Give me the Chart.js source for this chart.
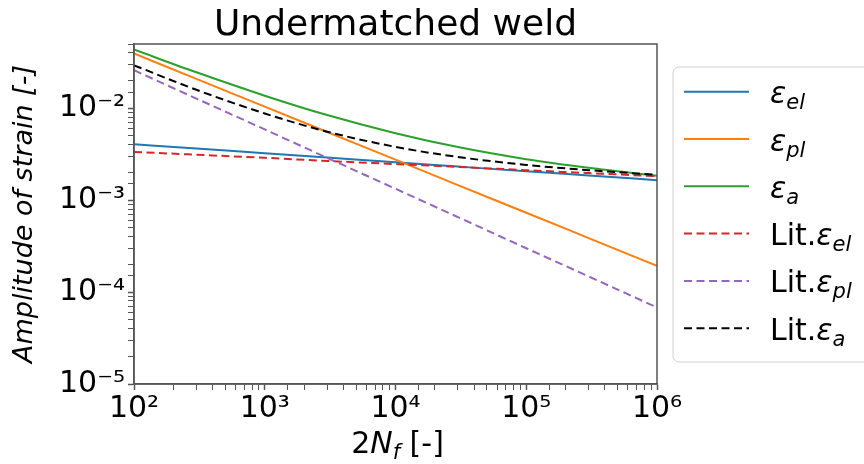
<!DOCTYPE html>
<html>
<head>
<meta charset="utf-8">
<title>Undermatched weld</title>
<script src="https://cdn.jsdelivr.net/npm/chart.js@4.4.1/dist/chart.umd.min.js"></script>
<style>
  html, body { margin: 0; padding: 0; background: #fff; }
  #wrap { width: 864px; height: 464px; }
</style>
</head>
<body>
<div id="wrap"><canvas id="chart" width="864" height="464"></canvas></div>
<script>
/* Undermatched weld - strain amplitude vs reversals (log-log) */
const cycles  = [100, 300, 1000, 3000, 10000, 30000, 100000, 300000, 1000000];

// fitted curves
const epsEl   = [4.06e-3, 3.65e-3, 3.24e-3, 2.91e-3, 2.59e-3, 2.32e-3, 2.06e-3, 1.86e-3, 1.65e-3];
const epsPl   = [3.94e-2, 2.09e-2, 1.04e-2, 5.52e-3, 2.76e-3, 1.46e-3, 7.30e-4, 3.87e-4, 1.93e-4];
const epsA    = [4.35e-2, 2.46e-2, 1.37e-2, 8.43e-3, 5.35e-3, 3.78e-3, 2.79e-3, 2.25e-3, 1.84e-3];

// literature curves
const litEl   = [3.35e-3, 3.12e-3, 2.89e-3, 2.67e-3, 2.47e-3, 2.30e-3, 2.12e-3, 1.97e-3, 1.82e-3];
const litPl   = [2.59e-2, 1.275e-2, 5.88e-3, 2.89e-3, 1.33e-3, 6.54e-4, 3.00e-4, 1.48e-4, 6.8e-5];
const litA    = [2.93e-2, 1.587e-2, 8.77e-3, 5.56e-3, 3.80e-3, 2.95e-3, 2.42e-3, 2.12e-3, 1.89e-3];

const seriesNames = ['el', 'pl', 'a', 'el', 'pl', 'a'];
const seriesLit   = [false, false, false, true, true, true];
const seriesData  = [epsEl, epsPl, epsA, litEl, litPl, litA];
const COLORS = ['#1f77b4', '#ff7f0e', '#2ca02c', '#d62728', '#9467bd', '#000000'];
const DASH = [8, 4.5];

const yMin = 1e-5, yMax = 0.05;
const xMin = 100, xMax = 1e6;

const FONT = '"DejaVu Sans", "Liberation Sans", sans-serif';
const AXIS_COLOR = '#555';

const SUP = {'-': '\u207B', '0': '\u2070', '1': '\u00B9', '2': '\u00B2', '3': '\u00B3',
             '4': '\u2074', '5': '\u2075', '6': '\u2076', '7': '\u2077', '8': '\u2078', '9': '\u2079'};

function powLabel(v){
  const e = Math.round(Math.log10(v));
  if(Math.abs(Math.log10(v) - e) > 1e-9) return '';
  return '10' + String(e).split('').map(c => SUP[c]).join('');
}
function isMajor(v){
  const l = Math.log10(v);
  return Math.abs(l - Math.round(l)) < 1e-9;
}

const datasets = seriesData.map((d, i) => ({
  label: (seriesLit[i] ? 'Lit.' : '') + 'ε_' + seriesNames[i],
  data: cycles.map((x, j) => ({x: x, y: d[j]})),
  borderColor: COLORS[i],
  backgroundColor: COLORS[i],
  borderWidth: 2,
  borderDash: seriesLit[i] ? DASH : [],
  pointRadius: 0,
  cubicInterpolationMode: 'monotone',
  fill: false,
  order: 6 - i
}));

// draws frame, titles and the legend with sub/superscripts
const decorPlugin = {
  id: 'decor',
  afterDraw(chart){
    const ctx = chart.ctx;
    const a = chart.chartArea;
    ctx.save();

    // frame
    ctx.strokeStyle = AXIS_COLOR;
    ctx.lineWidth = 1.5;
    ctx.strokeRect(a.left, a.top, a.right - a.left, a.bottom - a.top);

    ctx.fillStyle = '#000';
    ctx.textBaseline = 'alphabetic';

    // title
    ctx.font = '36px ' + FONT;
    ctx.textAlign = 'center';
    ctx.fillText('Undermatched weld', (a.left + a.right) / 2, 35);

    // y title
    ctx.save();
    ctx.translate(32, (a.top + a.bottom) / 2);
    ctx.rotate(-Math.PI / 2);
    ctx.font = 'italic 27px ' + FONT;
    ctx.textAlign = 'center';
    ctx.fillText('Amplitude of strain [-]', 0, 0);
    ctx.restore();

    // x title: 2N_f [-]
    ctx.textAlign = 'left';
    const big = '30px ' + FONT, bigIt = 'italic 30px ' + FONT, subIt = 'italic 21px ' + FONT;
    const parts = [
      {t: '2', f: big, dy: 0},
      {t: 'N', f: bigIt, dy: 0},
      {t: 'f', f: subIt, dy: 6},
      {t: ' [-]', f: big, dy: 0}
    ];
    let w = 0;
    parts.forEach(p => { ctx.font = p.f; p.w = ctx.measureText(p.t).width; w += p.w; });
    let x = (a.left + a.right) / 2 - w / 2 + 2;
    parts.forEach(p => { ctx.font = p.f; ctx.fillText(p.t, x, 453 + p.dy); x += p.w; });

    // legend
    const lx = 673, ly = 67, lw = 220, lh = 295, r = 6;
    ctx.beginPath();
    ctx.moveTo(lx + r, ly);
    ctx.lineTo(lx + lw, ly);
    ctx.lineTo(lx + lw, ly + lh);
    ctx.lineTo(lx + r, ly + lh);
    ctx.arcTo(lx, ly + lh, lx, ly + lh - r, r);
    ctx.lineTo(lx, ly + r);
    ctx.arcTo(lx, ly, lx + r, ly, r);
    ctx.closePath();
    ctx.fillStyle = '#fff';
    ctx.fill();
    ctx.strokeStyle = '#d0d0d0';
    ctx.lineWidth = 1;
    ctx.stroke();

    for(let i = 0; i < seriesNames.length; i++){
      const y = 91.7 + 47.3 * i;
      ctx.beginPath();
      ctx.setLineDash(seriesLit[i] ? DASH : []);
      ctx.strokeStyle = COLORS[i];
      ctx.lineWidth = 2;
      ctx.moveTo(684, y);
      ctx.lineTo(749, y);
      ctx.stroke();
      ctx.setLineDash([]);

      ctx.fillStyle = '#000';
      let tx = 770;
      const base = y + 11.5;
      if(seriesLit[i]){
        ctx.font = big;
        ctx.fillText('Lit.', tx, base);
        tx += ctx.measureText('Lit.').width;
      }
      ctx.font = bigIt;
      ctx.fillText('ε', tx, base);
      tx += ctx.measureText('ε').width;
      ctx.font = subIt;
      ctx.fillText(seriesNames[i], tx, base + 6);
    }
    ctx.restore();
  }
};

const ctx = document.getElementById('chart').getContext('2d');
const chart = new Chart(ctx, {
  type: 'line',
  data: { datasets },
  options: {
    responsive: false,
    animation: false,
    devicePixelRatio: 1,
    layout: { padding: { left: 0, right: 207, top: 44, bottom: 0 } },
    plugins: {
      legend: { display: false },
      title: { display: false },
      tooltip: { enabled: false }
    },
    scales: {
      x: {
        type: 'logarithmic',
        min: xMin, max: xMax,
        afterFit(s){ s.height = 80; },
        border: { color: AXIS_COLOR, width: 1.5 },
        grid: {
          drawOnChartArea: false,
          tickLength: 6,
          tickColor: AXIS_COLOR,
          tickWidth: c => (c.tick && isMajor(c.tick.value)) ? 1.5 : 1
        },
        ticks: {
          autoSkip: false, maxRotation: 0, minRotation: 0,
          padding: 1,
          color: '#000',
          font: { family: FONT, size: 30 },
          callback: v => powLabel(v)
        }
      },
      y: {
        type: 'logarithmic',
        min: yMin, max: yMax,
        afterFit(s){ s.width = 134; },
        border: { color: AXIS_COLOR, width: 1.5 },
        grid: {
          drawOnChartArea: false,
          tickLength: 6,
          tickColor: AXIS_COLOR,
          tickWidth: c => (c.tick && isMajor(c.tick.value)) ? 1.5 : 1
        },
        ticks: {
          autoSkip: false,
          padding: 3,
          color: '#000',
          font: { family: FONT, size: 30 },
          callback: v => powLabel(v)
        }
      }
    }
  },
  plugins: [decorPlugin]
});
</script>
</body>
</html>
